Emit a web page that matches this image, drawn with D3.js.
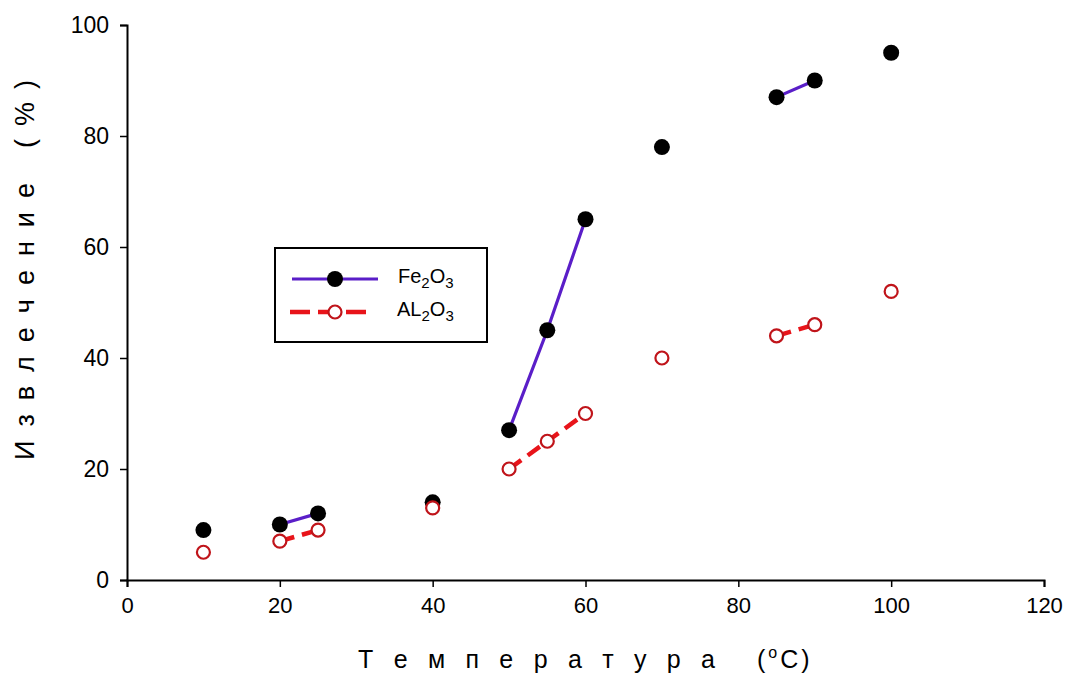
<!DOCTYPE html>
<html><head><meta charset="utf-8">
<script src="https://cdn.jsdelivr.net/npm/d3@7"></script>
<style>body{margin:0;background:#fff}svg{font-family:"Liberation Sans",Arial,sans-serif}</style>
</head><body>
<svg id="chart" width="1066" height="675"></svg>
<script>
const temps = [10, 20, 25, 40, 50, 55, 60, 70, 85, 90, 100];
const fe2o3 = [9, 10, 12, 14, 27, 45, 65, 78, 87, 90, 95];
const al2o3 = [5, 7, 9, 13, 20, 25, 30, 40, 44, 46, 52];
const segment = [0, 1, 1, 2, 3, 3, 3, 4, 5, 5, 6];
const xTicks = [0, 20, 40, 60, 80, 100, 120];
const yTicks = [0, 20, 40, 60, 80, 100];

const svg = d3.select("#chart");
const m = {l:127, r:1044, t:25, b:580};
const x = d3.scaleLinear().domain([0,120]).range([m.l, m.r]);
const y = d3.scaleLinear().domain([0,100]).range([m.b, m.t]);

const xAxis = svg.append("g").attr("transform",`translate(0,${m.b})`)
  .call(d3.axisBottom(x).tickValues(xTicks).tickSize(7).tickPadding(10));
const yAxis = svg.append("g").attr("transform",`translate(${m.l},0)`)
  .call(d3.axisLeft(y).tickValues(yTicks).tickSize(7).tickPadding(11));
[xAxis,yAxis].forEach(a=>{
  a.select(".domain").attr("stroke","#000").attr("stroke-width",2);
  a.selectAll(".tick line").attr("stroke","#000").attr("stroke-width",1.5);
  a.selectAll("text").attr("fill","#000");
});
xAxis.selectAll("text").style("font-size","22px");
yAxis.selectAll("text").style("font-size","23px");

const pts = temps.map((t,i)=>({t, fe:fe2o3[i], al:al2o3[i], s:segment[i]}));
const groups = d3.groups(pts, d=>d.s).filter(g=>g[1].length>1);

const lineFe = d3.line().x(d=>x(d.t)).y(d=>y(d.fe));
const lineAl = d3.line().x(d=>x(d.t)).y(d=>y(d.al));

svg.append("g").selectAll("path").data(groups).join("path")
  .attr("d", g=>lineAl(g[1])).attr("fill","none").attr("stroke","#e8141a")
  .attr("stroke-width",4.5).attr("stroke-dasharray","15,8");
svg.append("g").selectAll("path").data(groups).join("path")
  .attr("d", g=>lineFe(g[1])).attr("fill","none").attr("stroke","#5a1ec8")
  .attr("stroke-width",3.2);

svg.append("g").selectAll("circle").data(pts).join("circle")
  .attr("cx",d=>x(d.t)).attr("cy",d=>y(d.fe)).attr("r",8).attr("fill","#000");
svg.append("g").selectAll("circle").data(pts).join("circle")
  .attr("cx",d=>x(d.t)).attr("cy",d=>y(d.al)).attr("r",6.5).attr("fill","#fff")
  .attr("stroke","#c0141a").attr("stroke-width",2.2);

// Legend
const lg = svg.append("g");
lg.append("rect").attr("x",275).attr("y",248).attr("width",212).attr("height",94)
  .attr("fill","#fff").attr("stroke","#000").attr("stroke-width",2);
lg.append("line").attr("x1",292).attr("x2",378).attr("y1",279).attr("y2",279)
  .attr("stroke","#5a1ec8").attr("stroke-width",3);
lg.append("circle").attr("cx",335).attr("cy",279).attr("r",8).attr("fill","#000");
lg.append("line").attr("x1",290).attr("x2",367).attr("y1",312).attr("y2",312)
  .attr("stroke","#e8141a").attr("stroke-width",4.5).attr("stroke-dasharray","20,8");
lg.append("circle").attr("cx",335).attr("cy",312).attr("r",6.5).attr("fill","#fff")
  .attr("stroke","#c0141a").attr("stroke-width",2.2);
function chem(g, xx, yy, parts){
  const t = g.append("text").attr("x",xx).attr("y",yy).style("font-size","20px").attr("fill","#000");
  parts.forEach(p=>{
    if(p.sub) t.append("tspan").attr("dy",5).style("font-size","15px").text(p.s);
    else t.append("tspan").attr("dy",p.back?-5:0).text(p.s);
  });
}
chem(lg, 398, 283, [{s:"Fe"},{s:"2",sub:true},{s:"O",back:true},{s:"3",sub:true}]);
chem(lg, 397, 316, [{s:"AL"},{s:"2",sub:true},{s:"O",back:true},{s:"3",sub:true}]);

// Axis titles
svg.append("text").attr("x",358).attr("y",668)
  .attr("textLength",357).attr("lengthAdjust","spacing")
  .style("font-size","25px").attr("fill","#000")
  .text("Т е м п е р а т у р а");
const xu = svg.append("text").attr("x",757).attr("y",668)
  .style("font-size","25px").style("letter-spacing","3px").attr("fill","#000");
xu.append("tspan").text("(");
xu.append("tspan").attr("dy",-10).style("font-size","16px").text("o");
xu.append("tspan").attr("dy",10).text("C)");

svg.append("text").attr("transform","translate(34,460) rotate(-90)")
  .attr("textLength",277).attr("lengthAdjust","spacing")
  .style("font-size","27px").attr("fill","#000")
  .text("И з в л е ч е н и е");
svg.append("text").attr("transform","translate(34,148) rotate(-90)")
  .attr("textLength",68).attr("lengthAdjust","spacing")
  .style("font-size","27px").attr("fill","#000")
  .text("( % )");
</script>
</body></html>
